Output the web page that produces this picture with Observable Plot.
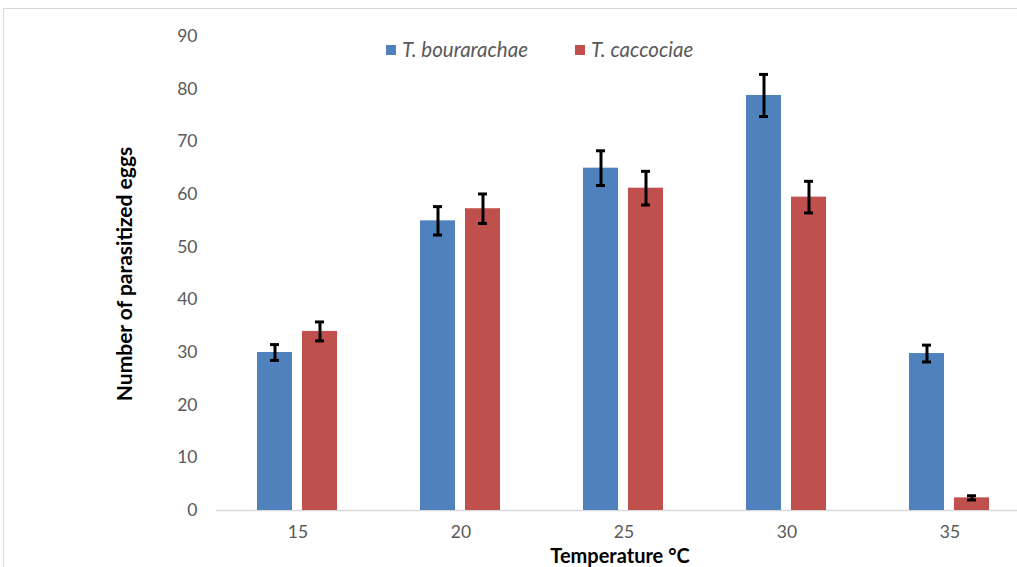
<!DOCTYPE html>
<html>
<head>
<meta charset="utf-8">
<script src="https://cdn.jsdelivr.net/npm/d3@7"></script>
<script src="https://cdn.jsdelivr.net/npm/@observablehq/plot@0.6"></script>
<style>
  html, body { margin: 0; padding: 0; background: #fff; overflow: hidden; width: 1017px; height: 567px; }
  #wrap { position: relative; width: 1017px; height: 567px; overflow: hidden; font-family: Lato, "Open Sans", sans-serif; }
  #border { position: absolute; left: 3px; top: 8px; width: 1100px; height: 700px; border-top: 1.5px solid #d9d9d9; border-left: 1.5px solid #d9d9d9; box-sizing: border-box; }
  #chart { position: absolute; left: 0; top: 0; width: 1040px; }
  #chart svg { max-width: none !important; }
  #legend { position: absolute; top: 37px; left: 386px; display: flex; align-items: center; font-style: italic; font-size: 20.5px; line-height: 25px; color: #595959; }
  #legend .item { display: flex; align-items: center; margin-right: 47px; }
  #legend .sw { width: 10px; height: 10px; margin-right: 6px; }
</style>
</head>
<body>
<div id="wrap">
  <div id="border"></div>
  <div id="chart"></div>
  <div id="legend"></div>
</div>
<script>
const temps = ["15", "20", "25", "30", "35"];
const series = ["T. bourarachae", "T. caccociae"];
const colors = ["#4F81BD", "#C0504D"];
const bourarachae = [30, 55, 65, 78.8, 29.8];
const bourarachaeErr = [1.5, 2.7, 3.3, 4.0, 1.6];
const caccociae = [34, 57.3, 61.2, 59.5, 2.4];
const caccociaeErr = [1.8, 2.8, 3.2, 3.0, 0.4];
const yTicks = [0, 10, 20, 30, 40, 50, 60, 70, 80, 90];

const data = [];
temps.forEach((t, i) => {
  data.push({temp: t, series: series[0], value: bourarachae[i], err: bourarachaeErr[i]});
  data.push({temp: t, series: series[1], value: caccociae[i], err: caccociaeErr[i]});
});

const chart = Plot.plot({
  width: 1040,
  height: 567,
  marginLeft: 215,
  marginRight: 8,
  marginTop: 36,
  marginBottom: 57,
  style: {fontFamily: "Lato, 'Open Sans', sans-serif", fontSize: "17.5px", color: "#595959", background: "transparent", maxWidth: "none"},
  fx: {domain: temps, padding: 0, axis: "bottom", tickSize: 0, tickPadding: 15, label: null},
  x: {domain: series, paddingInner: 0.217, paddingOuter: 0.883, axis: null},
  y: {domain: [0, 90], ticks: yTicks, tickSize: 0, tickPadding: 19, label: null},
  color: {domain: series, range: colors},
  marks: [
    Plot.ruleY([0], {stroke: "#d9d9d9", strokeWidth: 1.5}),
    Plot.barY(data, {fx: "temp", x: "series", y: "value", fill: "series"}),
    Plot.ruleX(data, {fx: "temp", x: "series", y1: d => d.value - d.err, y2: d => d.value + d.err, stroke: "black", strokeWidth: 3}),
    Plot.tickY(data, {fx: "temp", x: "series", y: d => d.value + d.err, stroke: "black", strokeWidth: 3, insetLeft: 13, insetRight: 13}),
    Plot.tickY(data, {fx: "temp", x: "series", y: d => d.value - d.err, stroke: "black", strokeWidth: 3, insetLeft: 13, insetRight: 13})
  ]
});
chart.style.maxWidth = "none";

const svg = d3.select(chart);
svg.append("text")
  .attr("transform", "translate(127,274) rotate(-90)")
  .attr("text-anchor", "middle")
  .attr("dominant-baseline", "middle")
  .attr("font-weight", "bold")
  .attr("font-size", 21)
  .attr("fill", "#000")
  .text("Number of parasitized eggs");
svg.append("text")
  .attr("x", 620)
  .attr("y", 558)
  .attr("text-anchor", "middle")
  .attr("dominant-baseline", "middle")
  .attr("font-weight", "bold")
  .attr("font-size", 20)
  .attr("fill", "#000")
  .text("Temperature °C");

document.getElementById("chart").appendChild(chart);

const legend = document.getElementById("legend");
series.forEach((s, i) => {
  const item = document.createElement("div");
  item.className = "item";
  const sw = document.createElement("div");
  sw.className = "sw";
  sw.style.background = colors[i];
  const label = document.createElement("span");
  label.textContent = s;
  item.appendChild(sw);
  item.appendChild(label);
  legend.appendChild(item);
});
</script>
</body>
</html>
